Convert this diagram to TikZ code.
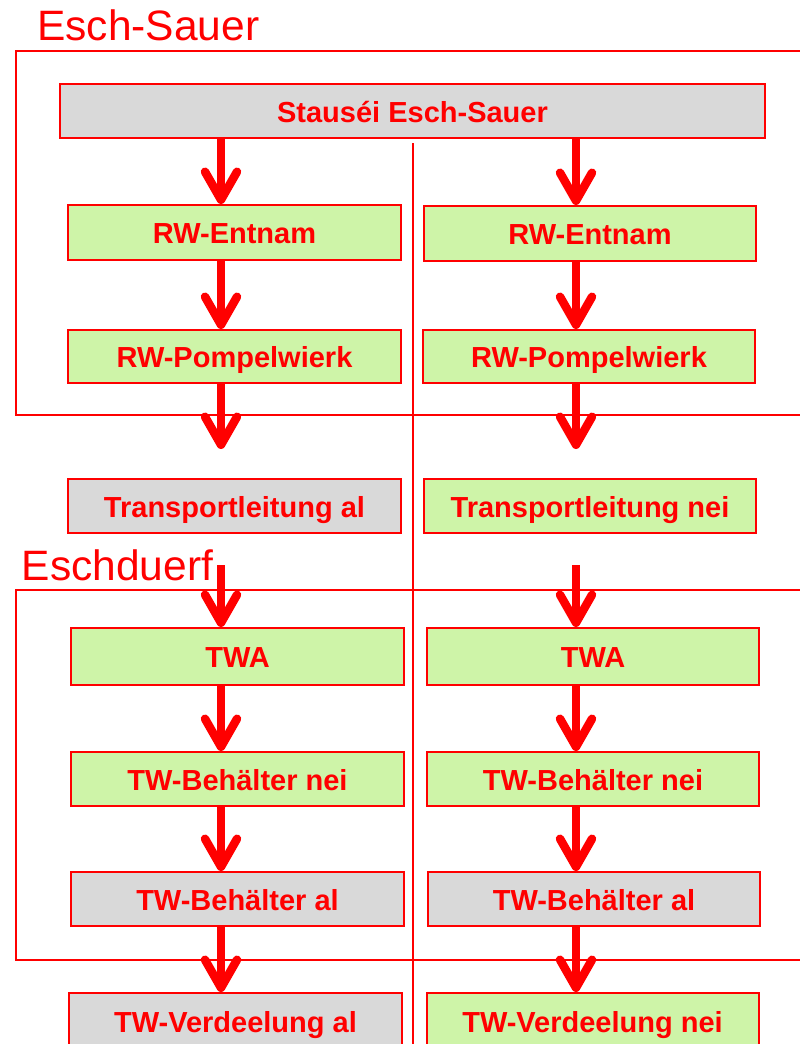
\documentclass[tikz,border=0pt]{standalone}
\usepackage{fontspec}
\setmainfont{Liberation Sans}
\usetikzlibrary{arrows.meta}
\definecolor{myred}{RGB}{255,0,0}
\definecolor{boxgray}{RGB}{217,217,217}
\definecolor{boxgreen}{RGB}{206,244,168}
\tikzset{
  stepbox/.style={draw=myred, line width=2pt, text=myred, font=\fontsize{29}{34}\selectfont\bfseries, inner sep=0pt, minimum height=54pt, minimum width=333pt, text depth=0pt, text height=22pt},
  graybox/.style={stepbox, fill=boxgray},
  greenbox/.style={stepbox, fill=boxgreen},
  framelabel/.style={text=myred, font=\fontsize{42.5}{48}\selectfont, inner sep=0pt, anchor=base west},
  frameline/.style={draw=myred, line width=2pt},
  arr/.style={draw=myred, line width=8.5pt, -{Straight Barb[length=28pt,width=32pt,round]}},
}
\begin{document}
\begin{tikzpicture}[x=1pt,y=-1pt]
\useasboundingbox (0,0) rectangle (800,1044);
% frames
\draw[frameline] (801,51) -- (16,51) -- (16,415) -- (801,415);
\draw[frameline] (801,590) -- (16,590) -- (16,960) -- (801,960);
\draw[draw=myred, line width=1.5pt] (413,143) -- (413,1045);
\node[framelabel] (t1) at (37,40) {Esch-Sauer};
\node[framelabel] (t2) at (21.5,580) {Eschduerf};
% boxes
\node[graybox, minimum width=705pt] (stau) at (412.5,111) {Stauséi Esch-Sauer};
\node[greenbox, minimum height=55pt] (l1) at (234.5,232.5) {RW-Entnam};
\node[greenbox, minimum height=55pt, minimum width=332pt] (r1) at (590,233.5) {RW-Entnam};
\node[greenbox, minimum height=53pt] (l2) at (234.5,356.5) {RW-Pompelwierk};
\node[greenbox, minimum height=53pt, minimum width=332pt] (r2) at (589,356.5) {RW-Pompelwierk};
\node[graybox] (l3) at (234.5,506) {Transportleitung al};
\node[greenbox, minimum width=332pt] (r3) at (590,506) {Transportleitung nei};
\node[greenbox, minimum height=57pt] (l4) at (237.5,656.5) {TWA};
\node[greenbox, minimum height=57pt, minimum width=332pt] (r4) at (593,656.5) {TWA};
\node[greenbox] (l5) at (237.5,779) {TW-Behälter nei};
\node[greenbox, minimum width=332pt] (r5) at (593,779) {TW-Behälter nei};
\node[graybox] (l6) at (237.5,899) {TW-Behälter al};
\node[graybox, minimum width=332pt] (r6) at (594,899) {TW-Behälter al};
\node[graybox, minimum height=56pt] (l7) at (235.5,1021) {TW-Verdeelung al};
\node[greenbox, minimum height=56pt, minimum width=332pt] (r7) at (592.5,1021) {TW-Verdeelung nei};
% arrow columns
\coordinate (cl) at (221,0);
\coordinate (cr) at (576,0);
\coordinate (el) at (221,449);
\coordinate (er) at (576,449);
\coordinate (sl) at (221,565);
\coordinate (sr) at (576,565);
% arrows
\draw[arr] (stau.south -| cl) -- (l1.north -| cl);
\draw[arr] (stau.south -| cr) -- (r1.north -| cr);
\draw[arr] (l1.south -| cl) -- (l2.north -| cl);
\draw[arr] (r1.south -| cr) -- (r2.north -| cr);
\draw[arr] (l2.south -| cl) -- (el);
\draw[arr] (r2.south -| cr) -- (er);
\draw[arr] (sl) -- (l4.north -| cl);
\draw[arr] (sr) -- (r4.north -| cr);
\draw[arr] (l4.south -| cl) -- (l5.north -| cl);
\draw[arr] (r4.south -| cr) -- (r5.north -| cr);
\draw[arr] (l5.south -| cl) -- (l6.north -| cl);
\draw[arr] (r5.south -| cr) -- (r6.north -| cr);
\draw[arr] (l6.south -| cl) -- (l7.north -| cl);
\draw[arr] (r6.south -| cr) -- (r7.north -| cr);
\end{tikzpicture}
\end{document}
